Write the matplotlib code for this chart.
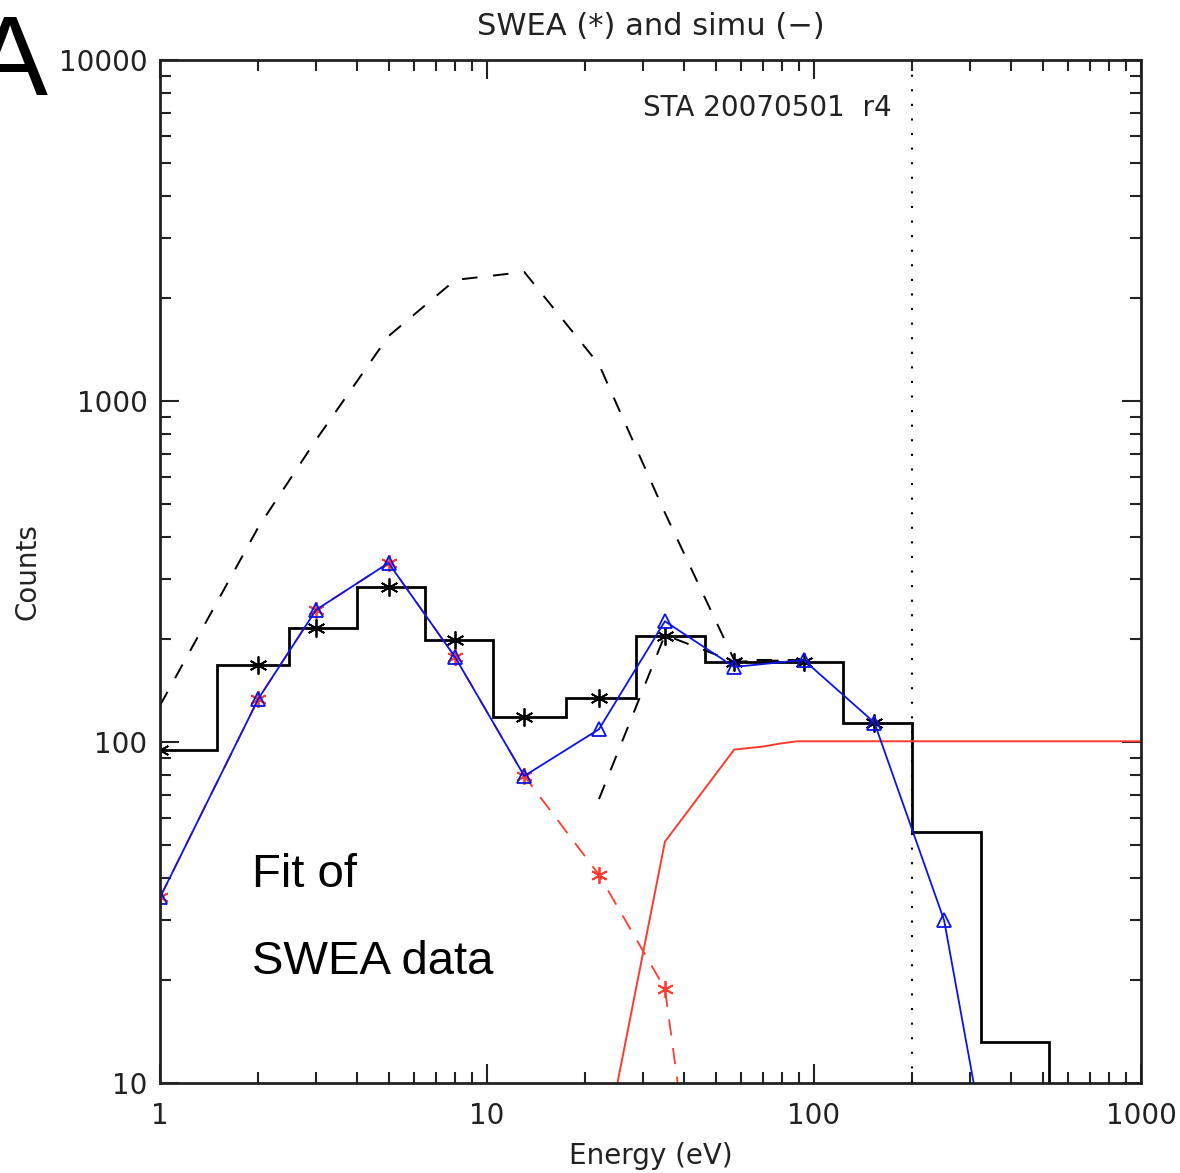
import matplotlib
matplotlib.use("Agg")
import matplotlib.pyplot as plt
from matplotlib.ticker import LogLocator, NullFormatter

# SWEA measured counts (histogram + asterisks)
energy = [1, 2, 3, 5, 8, 13, 22, 35, 57, 93, 153, 250, 410]
swea_counts = [95, 168, 216, 285, 199, 118, 135, 205, 172, 172, 114, 54.5, 13.2]
bin_edges = [0.67, 1.49, 2.48, 4.0, 6.46, 10.4, 17.4, 28.6, 46.4, 75.5, 123, 199.5, 324, 523]
n_star = 11

# simulated total (blue, triangles)
fit_counts = [35, 134, 244, 335, 177, 79.5, 109, 226, 166, 174, 114, 30, 2.2]

# component 1 (red dashed, asterisks)
comp1_energy = [1, 2, 3, 5, 8, 13, 22, 35, 57]
comp1_counts = [35, 134, 244, 335, 177, 79.5, 40.8, 18.9, 0.6]

# component 2 (red solid)
comp2_energy = [22, 35, 57, 70, 79, 89, 1000]
comp2_counts = [5.3, 51, 95, 97, 99, 100.5, 100.5]

# black dashed curves
dash1_energy = [1, 2, 3, 5, 8, 13, 22, 35, 57, 93]
dash1_counts = [128, 427, 769, 1550, 2265, 2390, 1280, 470, 174, 174]
dash2_energy = [22, 35, 57, 93]
dash2_counts = [68, 206, 172, 174]

cutoff = 200

red = '#ff3b2f'
blue = '#0a14e6'

fig = plt.figure(figsize=(11.8, 11.73), dpi=100)
ax = fig.add_axes([160/1180, 1 - 1083/1173, 981/1180, 1023/1173])

ax.stairs(swea_counts, bin_edges, baseline=1, color='black', linewidth=2)
ax.plot(energy[:n_star], swea_counts[:n_star], linestyle='none', marker=(6, 2, 0),
        markersize=13, color='black', markeredgewidth=1.3)

ax.plot(dash1_energy, dash1_counts, color='black', linewidth=1.4, linestyle=(0, (8, 8)))
ax.plot(dash2_energy, dash2_counts, color='black', linewidth=1.4, linestyle=(0, (8, 8)))

ax.plot(comp1_energy, comp1_counts, color=red, linewidth=1.3, linestyle=(0, (9, 7)))
ax.plot(comp1_energy[:8], comp1_counts[:8], linestyle='none', marker=(6, 2, 0),
        markersize=12, color=red, markeredgewidth=1.3)
ax.plot(comp2_energy, comp2_counts, color=red, linewidth=1.4)

ax.plot(energy, fit_counts, color=blue, linewidth=1.3, marker='^', markersize=10,
        markerfacecolor='none', markeredgecolor=blue, markeredgewidth=1.3)

ax.axvline(cutoff, color='black', linestyle=(0, (1, 6)), linewidth=1.5)

ax.set_xscale('log')
ax.set_yscale('log')
ax.set_xlim(1, 1000)
ax.set_ylim(10, 10000)

ax.set_xticks([1, 10, 100, 1000], ['1', '10', '100', '1000'])
ax.set_yticks([10, 100, 1000, 10000], ['10', '100', '1000', '10000'])
ax.xaxis.set_minor_locator(LogLocator(base=10, subs=range(2, 10)))
ax.yaxis.set_minor_locator(LogLocator(base=10, subs=range(2, 10)))
ax.xaxis.set_minor_formatter(NullFormatter())
ax.yaxis.set_minor_formatter(NullFormatter())

ax.tick_params(which='both', direction='in', top=True, right=True, width=1.5,
               color='#222222')
ax.tick_params(which='major', length=14)
ax.tick_params(which='minor', length=8)
ax.tick_params(axis='x', labelsize=20, pad=14, colors='#222222')
ax.tick_params(axis='y', labelsize=20, pad=9, colors='#222222')
for s in ax.spines.values():
    s.set_linewidth(2)
    s.set_color('#222222')

ax.set_title('SWEA (*) and simu (\u2212)', fontsize=22, pad=18, color='#222222')
ax.set_xlabel('Energy (eV)', fontsize=20, labelpad=8, color='#222222')
ax.set_ylabel('Counts', fontsize=20, color='#222222')
ax.yaxis.set_label_coords(-0.121, 0.5)

ax.text(0.492, 0.953, 'STA 20070501  r4', transform=ax.transAxes, fontsize=20,
        ha='left', va='center', color='#222222')

ax.text(0.094, 0.203, 'Fit of', transform=ax.transAxes, fontsize=34,
        family='Liberation Sans', ha='left', va='center')
ax.text(0.094, 0.118, 'SWEA data', transform=ax.transAxes, fontsize=34,
        family='Liberation Sans', ha='left', va='center')

fig.text(10/1180, 1 - 95/1173, 'A', fontsize=82, family='Liberation Sans',
         ha='center', va='baseline')

fig.savefig('out.png', dpi=100)
